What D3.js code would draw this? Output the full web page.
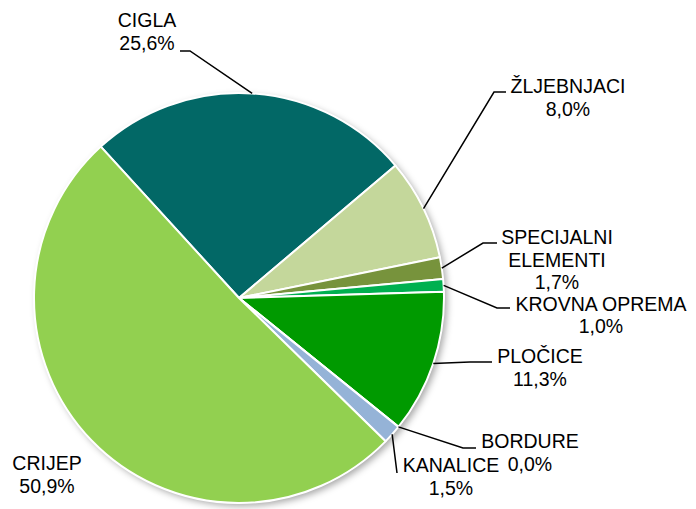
<!DOCTYPE html>
<html>
<head>
<meta charset="utf-8">
<script src="https://cdn.jsdelivr.net/npm/d3@7"></script>
<style>
  body { margin: 0; background: #fff; }
  svg text { font-family: "Liberation Sans", Arial, sans-serif; font-size: 19.5px; fill: #000; }
</style>
</head>
<body>
<svg id="chart" width="696" height="509"></svg>
<script>
// data
var categories = ["CIGLA", "ŽLJEBNJACI", "SPECIJALNI ELEMENTI", "KROVNA OPREMA", "PLOČICE", "BORDURE", "KANALICE", "CRIJEP"];
var values = [25.6, 8.0, 1.7, 1.0, 11.3, 0.0, 1.5, 50.9];
var valueLabels = ["25,6%", "8,0%", "1,7%", "1,0%", "11,3%", "0,0%", "1,5%", "50,9%"];
var colors = ["#026866", "#c4d79b", "#77933c", "#00b050", "#009a00", "#95b3d7", "#95b3d7", "#92d050"];

// label layout: text lines, centre x, first baseline, leader elbow points (null = no leader)
var labelLines = [["CIGLA", "25,6%"], ["ŽLJEBNJACI", "8,0%"], ["SPECIJALNI", "ELEMENTI", "1,7%"],
  ["KROVNA OPREMA", "1,0%"], ["PLOČICE", "11,3%"], ["BORDURE", "0,0%"], ["KANALICE", "1,5%"], ["CRIJEP", "50,9%"]];
var labelX = [147, 568, 557, 601, 540, 530, 451, 47];
var labelY = [27, 93, 244, 311, 363, 448, 472, 470];
var lineGap = [23, 23, 22.5, 22, 22.5, 23, 23, 22.5];
var leaderPts = [
  [[190, 51], [180, 51]],
  [[494, 92], [506, 92]],
  [[483, 243], [497, 243]],
  [[497, 308], [510, 308]],
  [[470, 362], [492, 362]],
  [[463, 448], [476, 448]],
  [[397, 473]],
  null
];

var cx = 239, cy = 298, r = 205;
var startDeg = -42.4;

var svg = d3.select("#chart");
var defs = svg.append("defs");
var f = defs.append("filter").attr("id", "shadow")
  .attr("x", "-10%").attr("y", "-10%").attr("width", "125%").attr("height", "125%");
f.append("feDropShadow").attr("dx", 3).attr("dy", 3).attr("stdDeviation", 3.5)
  .attr("flood-color", "#000").attr("flood-opacity", 0.35);

var pie = d3.pie().sort(null)
  .startAngle(startDeg * Math.PI / 180)
  .endAngle(startDeg * Math.PI / 180 + 2 * Math.PI);
var arcs = pie(values);
var arc = d3.arc().innerRadius(0).outerRadius(r);

var g = svg.append("g").attr("transform", "translate(" + cx + "," + cy + ")");

// shadow disc under the pie
g.append("circle").attr("r", r).attr("fill", "#fff").attr("filter", "url(#shadow)");

g.selectAll("path.slice")
  .data(arcs)
  .enter()
  .append("path")
  .attr("class", "slice")
  .attr("d", arc)
  .attr("fill", function(d, i) { return colors[i]; })
  .attr("stroke", "#fff")
  .attr("stroke-width", 2)
  .attr("stroke-linejoin", "round");

// leader lines from the edge of each slice at its mid angle
arcs.forEach(function(d, i) {
  if (!leaderPts[i]) return;
  var a = (d.startAngle + d.endAngle) / 2;
  var p0 = [cx + r * Math.sin(a), cy - r * Math.cos(a)];
  var pts = [p0].concat(leaderPts[i]);
  svg.append("path")
    .attr("d", d3.line()(pts))
    .attr("fill", "none")
    .attr("stroke", "#000")
    .attr("stroke-width", 1.5);
});

// labels
labelLines.forEach(function(lines, i) {
  var t = svg.append("text").attr("text-anchor", "middle");
  lines.forEach(function(s, j) {
    t.append("tspan").attr("x", labelX[i]).attr("y", labelY[i] + j * lineGap[i]).text(s);
  });
});
</script>
</body>
</html>
